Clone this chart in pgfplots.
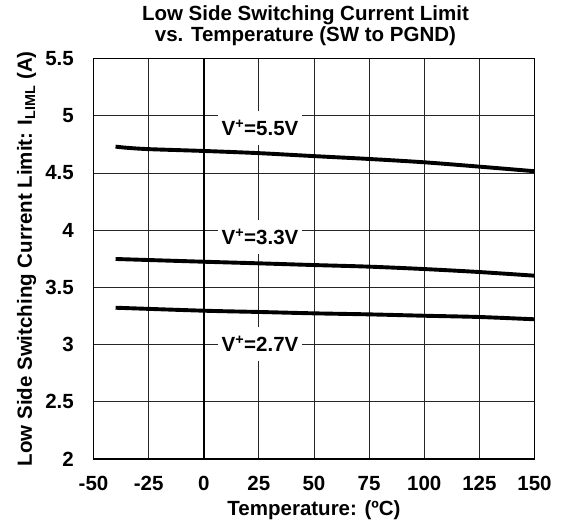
\documentclass[border=0pt]{standalone}
\usepackage{fontspec}
\setmainfont{Liberation Sans}
\usepackage{pgfplots}
\pgfplotsset{compat=1.18}
\newcommand\cf{\fontsize{20.5}{24.6}\selectfont\bfseries}
\begin{document}
\begin{tikzpicture}
\begin{axis}[
  at={(0pt,0pt)}, anchor=south west,
  scale only axis, width=441pt, height=400.5pt,
  xmin=-50, xmax=150, ymin=2, ymax=5.5,
  xtick={-50,-25,0,25,50,75,100,125,150},
  ytick={2,2.5,3,3.5,4,4.5,5,5.5},
  yticklabels={2,2.5,3,3.5,4,4.5,5,5.5},
  xticklabels={-50,-25,0,25,50,75,100,125,150},
  major tick length=0pt,
  grid=major,
  major grid style={black!85, line width=0.8pt},
  axis line style={black, line width=1.5pt},
  extra x ticks={0}, extra x tick labels={},
  extra x tick style={grid=major, major grid style={black, line width=1.8pt}, major tick length=0pt},
  /pgf/number format/assume math mode=true,
  every tick label/.append style={font=\cf},
  xticklabel style={anchor=base, yshift=-31pt},
  yticklabel style={anchor=east, inner sep=0pt, xshift=-19.5pt},
  xlabel={Temperature: (ºC)},
  xlabel style={font=\cf, at={(axis description cs:0.5,0)}, anchor=base, yshift=-56pt},
  ylabel={Low Side Switching Current Limit: I\textsubscript{LIML} (A)},
  ylabel style={font=\cf, at={(axis description cs:-0.1395,0.5)}, anchor=base, rotate=0},
  clip mode=individual,
]
\addplot[black, line width=3.9pt, smooth] coordinates {
(-40,4.730) (-35,4.720) (-25,4.708) (0,4.692) (25,4.673) (50,4.647) (75,4.622) (100,4.593) (125,4.555) (150,4.515)};
\addplot[black, line width=3.9pt, smooth] coordinates {
(-40,3.748) (0,3.724) (25,3.710) (50,3.695) (75,3.681) (100,3.660) (125,3.634) (150,3.602)};
\addplot[black, line width=3.9pt, smooth] coordinates {
(-40,3.322) (0,3.296) (25,3.285) (50,3.273) (75,3.264) (100,3.252) (125,3.241) (150,3.221)};
\node[fill=white, inner xsep=3.5pt, inner ysep=9pt, font=\cf] at (axis cs:25.5,4.893) {V\textsuperscript{+}=5.5V};
\node[fill=white, inner xsep=3.5pt, inner ysep=9pt, font=\cf] at (axis cs:25.5,3.94) {V\textsuperscript{+}=3.3V};
\node[fill=white, inner xsep=3.5pt, inner ysep=9pt, font=\cf] at (axis cs:25.5,3.008) {V\textsuperscript{+}=2.7V};
\node[anchor=base, font=\cf] at (rel axis cs:0.4807,1.0949) {Low Side Switching Current Limit};
\node[anchor=base, font=\cf] at (rel axis cs:0.4807,1.0437) {vs. Temperature (SW to PGND)};
\end{axis}
\pgfresetboundingbox
\path[use as bounding box] (-93.5pt,-72pt) rectangle (467.5pt,459pt);
\end{tikzpicture}
\end{document}
